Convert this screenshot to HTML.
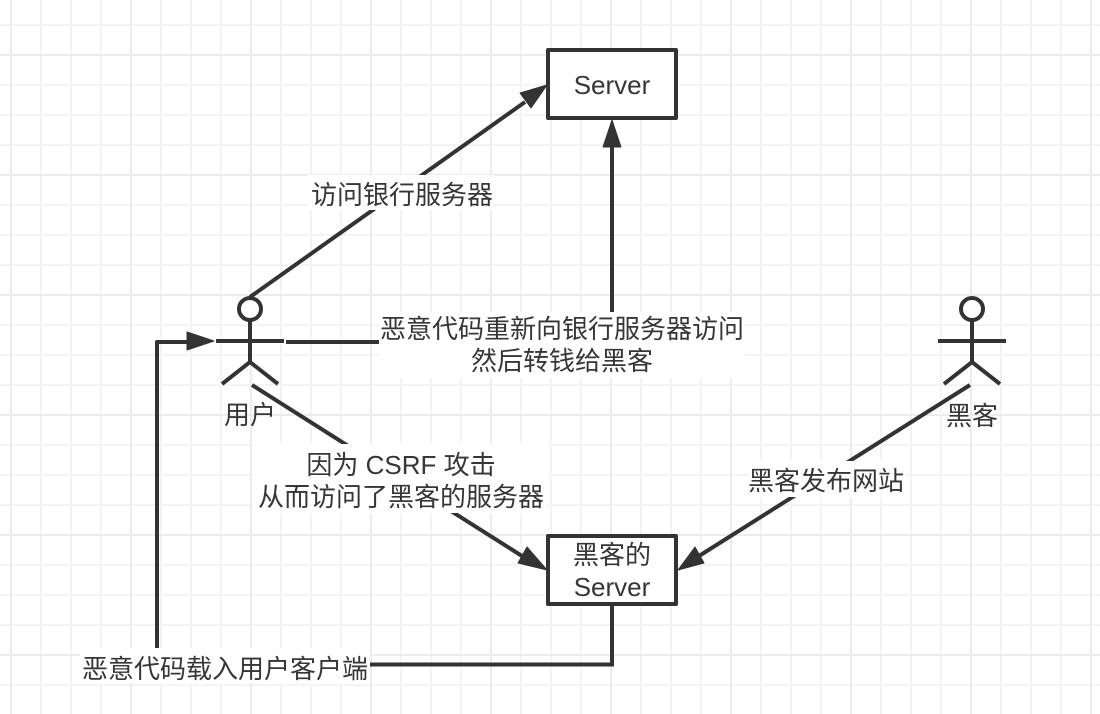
<!DOCTYPE html>
<html>
<head>
<meta charset="utf-8">
<style>
html,body{margin:0;padding:0;background:#fff;width:1100px;height:714px;overflow:hidden}
svg{display:block}
text{font-family:"Liberation Sans","Noto Sans CJK SC",sans-serif;font-size:26px;fill:#363636;text-anchor:middle}
</style>
</head>
<body>
<svg width="1100" height="714" viewBox="0 0 1100 714" xmlns="http://www.w3.org/2000/svg">
<defs>
<pattern id="g" width="30" height="30" patternUnits="userSpaceOnUse" x="10" y="24">
<path d="M1 0V30M0 1H30" stroke="#f4f4f4" stroke-width="2" fill="none"/>
</pattern>
<pattern id="G" width="120" height="120" patternUnits="userSpaceOnUse" x="10" y="54">
<path d="M1 0V120M0 1H120" stroke="#ececec" stroke-width="2" fill="none"/>
</pattern>
</defs>
<rect width="1100" height="714" fill="#fff"/>
<rect width="1100" height="714" fill="url(#g)"/>
<rect width="1100" height="714" fill="url(#G)"/>

<g fill="none" stroke="#333" stroke-width="4">
<path d="M250 297L525 102"/>
<path d="M612 147V342H286"/>
<path d="M252 385L522 556"/>
<path d="M970 385L699 556"/>
<path d="M612 606V664.500H370"/>
<path d="M157 648V342H190" stroke-linejoin="round"/>
<rect x="548" y="50" width="128" height="68" fill="#fff" stroke-linejoin="round"/>
<rect x="548" y="536" width="128" height="68" fill="#fff" stroke-linejoin="round"/>
</g>

<g fill="#333" stroke="#333" stroke-width="1" stroke-linejoin="round">
<polygon points="547,85 531,108 520,93"/>
<polygon points="612,120 621,147 603,147"/>
<polygon points="214,341 187,350 187,332"/>
<polygon points="547,570 518,563 527,547"/>
<polygon points="678,570 695,547 704,563"/>
</g>

<g fill="none" stroke="#333" stroke-width="4">
<circle cx="250" cy="309" r="11" fill="#fff"/>
<path d="M250 320V362M216 341H284M222 384L250 362L278 384"/>
<circle cx="972" cy="309" r="11" fill="#fff"/>
<path d="M972 320V362M938 341H1006M944 384L972 362L1000 384"/>
</g>

<g fill="#fff">
<rect x="308" y="175" width="186" height="35"/>
<rect x="379" y="312" width="366" height="66"/>
<rect x="252" y="444" width="295" height="69"/>
<rect x="749" y="461" width="156" height="36"/>
<rect x="80" y="648" width="290" height="35"/>
</g>

<text x="612" y="94">Server</text>
<text x="612" y="564">黑客的</text>
<text x="612" y="596">Server</text>
<text x="402" y="204">访问银行服务器</text>
<text x="562" y="338">恶意代码重新向银行服务器访问</text>
<text x="562" y="370">然后转钱给黑客</text>
<text x="401" y="474">因为 CSRF 攻击</text>
<text x="401" y="506">从而访问了黑客的服务器</text>
<text x="826" y="490">黑客发布网站</text>
<text x="225" y="678">恶意代码载入用户客户端</text>
<text x="250" y="424">用户</text>
<text x="972" y="425">黑客</text>
</svg>
</body>
</html>
